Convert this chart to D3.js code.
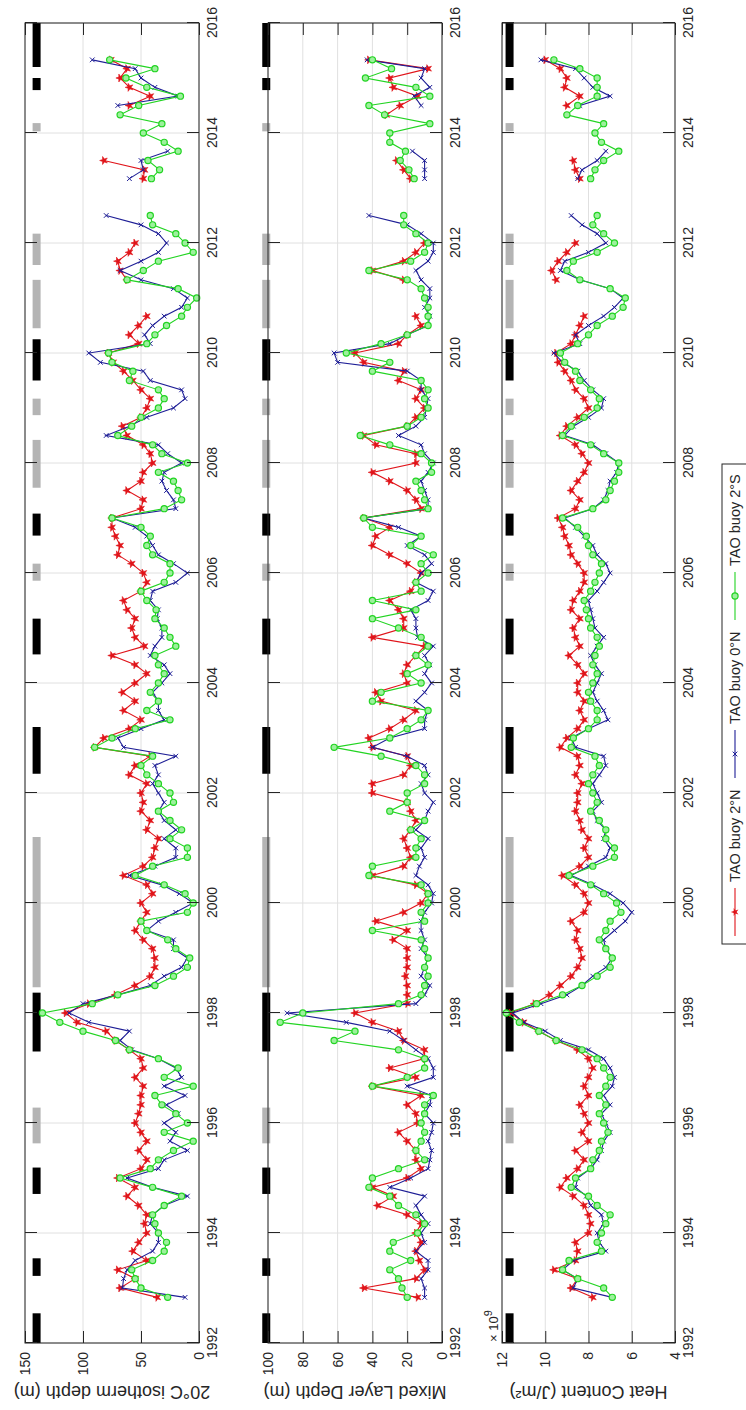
<!DOCTYPE html>
<html><head><meta charset="utf-8">
<script src="https://cdn.jsdelivr.net/npm/d3@7"></script>
<style>
body{margin:0;background:#fff}
svg{display:block}
text{font-family:"Liberation Sans",Arial,Helvetica,sans-serif}
</style>
</head><body>
<svg id="c" width="746" height="1410"></svg>
<script>
// ---------- DATA ----------
const dates = [1992.83,
1993,1993.17,1993.33,1993.5,1993.67,1993.83,
1994,1994.17,1994.33,1994.5,1994.67,1994.83,
1995,1995.17,1995.33,1995.5,1995.67,1995.83,
1996,1996.17,1996.33,1996.5,1996.67,1996.83,
1997,1997.17,1997.33,1997.5,1997.67,1997.83,
1998,1998.17,1998.33,1998.5,1998.67,1998.83,
1999,1999.17,1999.33,1999.5,1999.67,1999.83,
2000,2000.17,2000.33,2000.5,2000.67,2000.83,
2001,2001.17,2001.33,2001.5,2001.67,2001.83,
2002,2002.17,2002.33,2002.5,2002.67,2002.83,
2003,2003.17,2003.33,2003.5,2003.67,2003.83,
2004,2004.17,2004.33,2004.5,2004.67,2004.83,
2005,2005.17,2005.33,2005.5,2005.67,2005.83,
2006,2006.17,2006.33,2006.5,2006.67,2006.83,
2007,2007.17,2007.33,2007.5,2007.67,2007.83,
2008,2008.17,2008.33,2008.5,2008.67,2008.83,
2009,2009.17,2009.33,2009.5,2009.67,2009.83,
2010,2010.17,2010.33,2010.5,2010.67,2010.83,
2011,2011.17,2011.33,2011.5,2011.67,2011.83,
2012,2012.17,2012.33,2012.5,2012.67,2012.83,
2013,2013.17,2013.33,2013.5,2013.67,2013.83,
2014,2014.17,2014.33,2014.5,2014.67,2014.83,
2015,2015.17,2015.33];

const seriesNames = ["TAO buoy 2°N","TAO buoy 0°N","TAO buoy 2°S"];

// 20°C isotherm depth (m)
const d20_2N = [36,
68,55,70,45,57,52, 45,47,45,52,62,55, 70,50,45,52,45,50, 55,52,50,50,48,55,
48,50,60,72,80,105, 115,95,72,55,42,38, 38,40,48,55,50,45, 50,40,45,65,48,40,
38,35,45,42,50,48, 50,45,60,55,42,90, 82,60,50,65,55,66, 55,45,55,75,47,55,
58,55,62,65,50,45, 48,58,70,68,72,75, 75,50,48,62,50,48, 40,42,48,62,66,50,
45,42,50,57,65,74, 78,52,60,52,45,null, null,null,62,68,70,60, 55,null,null,null,null,null,
null,48,47,82,null,null, null,null,null,60,42,60, 68,62,76];
const d20_0N = [12,
66,65,62,55,40,35, 35,42,40,30,10,40, 62,35,30,10,25,20, 30,18,28,12,30,15,
20,35,58,68,60,95, 112,100,70,42,30,15, 10,22,22,45,35,20, 5,17,32,60,38,20,
20,30,20,30,35,30, 35,40,35,38,20,65, 70,50,30,35,35,40, 32,25,30,42,38,32,
32,36,35,42,40,20, 10,22,35,40,45,55, 75,20,22,28,32,30, 15,27,35,80,60,45,
22,12,15,42,48,85, 95,42,47,40,30,15, 10,22,50,68,50,35, 28,35,50,80,null,null,
null,60,48,50,27,null, null,null,null,70,18,38, 50,55,92];
const d20_2S = [27,
50,55,58,40,30,28, 35,38,40,30,15,40, 68,42,35,22,5,30, 10,20,32,38,5,30,
18,35,60,72,100,120, 135,92,70,38,22,10, 8,20,27,45,50,10, 5,12,30,55,40,10,
10,25,15,25,35,22, 25,35,45,50,40,90, 75,55,25,45,35,42, 35,30,35,38,20,25,
30,38,37,45,50,30, 25,25,40,45,42,50, 75,30,15,18,22,35, 10,32,40,70,58,50,
35,30,35,60,57,75, 78,45,38,28,15,10, 2,18,62,48,35,5, 12,20,40,42,null,null,
null,41,34,44,18,30, 48,32,68,52,16,45, 63,38,77];

// Mixed layer depth (m)
const mld_2N = [14,
45,15,10,13,15,12, 15,12,20,37,28,40, 20,12,15,15,20,25, 14,15,20,12,40,15,
30,10,10,22,25,40, 50,20,20,20,21,20, 20,20,28,20,38,22, 12,8,15,40,22,18,
20,22,18,15,18,20, 40,40,22,18,20,40, 42,30,22,15,35,38, 20,22,20,15,10,40,
22,22,25,30,18,15, 12,20,30,40,38,30, 45,12,15,20,30,40, 15,15,38,45,20,15,
10,15,12,25,22,45, 50,25,20,12,15,null, null,null,22,40,22,15, 10,null,null,null,null,null,
null,18,22,26,null,null, null,null,32,24,14,28, 30,8,42];
const mld_0N = [10,
10,12,8,8,15,10, 12,8,12,15,10,30, 18,8,7,6,8,6, 5,10,7,6,20,5,
5,8,15,22,30,55, 89,15,10,7,12,10, 8,12,10,12,12,10, 6,5,8,15,13,10,
12,8,15,10,8,5, 10,12,8,10,20,40, 30,10,10,8,15,10, 6,10,7,10,5,14,
15,15,18,8,5,15, 12,6,10,20,12,25, 45,8,8,10,12,8, 5,10,12,25,15,10,
9,8,12,12,20,60, 62,30,20,8,7,10, 7,7,12,15,8,5, 5,12,20,42,null,null,
null,10,10,10,17,null, null,null,null,12,16,7, 12,10,43];
const mld_2S = [20,
23,25,30,18,30,28, 14,10,15,25,30,42, 40,25,10,15,12,10, 12,10,10,5,40,20,
10,10,25,62,50,93, 80,25,12,10,8,10, 8,10,12,40,10,12, 8,8,12,42,40,15,
15,12,18,10,30,20, 20,10,10,15,35,62, 30,20,12,8,40,35, 12,20,8,15,8,12,
25,40,15,40,12,15, 8,12,5,18,12,40, 45,8,10,12,15,6, 6,12,30,47,20,12,
8,10,8,12,40,30, 55,35,20,8,8,8, 10,12,20,42,18,10, 8,15,22,22,null,null,
null,16,19,24,21,30, 30,7,33,42,7,15, 44,29,40];

// Heat content (x 10^9 J/m^2)
const hc_2N = [7.8,
8.8,8.5,9.6,8.6,8.5,8.6, 8.0,7.9,8.0,8.2,8.7,9.3, 9.0,8.5,8.2,8.6,8.0,8.3, 8.0,8.2,8.4,8.0,8.2,8.0,
7.8,8.0,8.5,9.5,10.3,11.0, 11.6,10.5,9.8,9.3,8.8,8.5, 8.3,8.4,8.6,8.5,8.8,8.2, 8.0,8.2,8.6,9.2,8.4,8.0,
8.2,8.0,8.3,8.4,8.6,8.5, 8.5,8.3,8.6,8.4,8.5,9.3, 9.0,8.5,8.2,8.4,8.2,8.5, 8.5,8.2,8.5,8.9,8.4,8.6,
8.7,8.4,8.8,8.7,8.4,8.2, 8.2,8.5,8.8,8.9,9.1,9.2, 9.4,8.6,8.4,8.8,8.5,8.2, 8.0,8.3,8.6,9.3,9.0,8.5,
8.0,8.2,8.6,8.8,9.1,9.4, 9.5,8.8,8.6,8.4,8.2,null, null,null,9.5,9.7,9.4,9.0, 8.6,null,null,null,null,null,
null,8.4,8.6,8.7,null,null, null,null,null,9.0,8.4,9.1, 9.0,9.3,10.0];
const hc_0N = [6.9,
8.7,8.5,9.2,8.7,7.2,7.5, 7.6,7.3,7.4,7.9,8.1,8.6, 8.5,7.9,7.6,7.4,7.3,7.0, 7.2,7.4,7.0,7.3,6.9,6.8,
7.0,7.3,8.0,9.3,10.0,11.0, 11.5,10.2,9.0,8.3,7.8,7.2, 6.9,7.2,7.3,6.8,6.3,6.0, 6.4,7.0,7.8,8.8,8.0,7.2,
7.0,7.3,7.2,7.6,7.8,7.4, 7.6,7.8,7.5,7.2,7.3,8.6, 8.8,8.0,7.1,7.3,7.6,7.8, 7.6,7.4,7.7,7.9,7.6,7.3,
7.7,7.8,7.9,8.0,7.6,7.3, 7.0,7.2,7.6,7.8,8.2,8.6, 9.1,7.8,7.3,7.1,7.0,6.7, 6.6,7.2,7.8,9.1,8.7,8.0,
7.4,7.3,7.8,8.2,8.5,9.2, 9.6,8.4,8.6,8.0,7.3,6.8, 6.4,7.0,8.4,9.3,9.1,8.0, 7.2,7.6,8.3,8.8,null,null,
null,8.5,8.3,7.6,7.2,null, null,null,null,8.4,7.0,7.8, 8.2,8.6,10.2];
const hc_2S = [6.9,
7.3,8.5,9.2,8.9,7.4,7.6, 7.4,7.2,7.0,7.6,8.0,8.8, 8.6,7.9,7.8,7.5,7.4,7.1, 7.3,7.5,7.2,7.5,7.2,7.0,
7.3,7.6,8.3,9.5,10.3,11.2, 11.8,10.4,9.2,8.3,7.6,7.0, 6.9,7.2,7.5,7.2,7.0,6.5, 6.7,7.3,7.9,8.9,7.8,6.8,
6.8,7.2,7.2,7.5,7.9,7.6, 7.8,8.0,7.8,7.5,7.7,8.8, 8.7,8.0,7.6,7.6,7.9,8.0, 7.8,7.6,7.8,7.7,7.5,7.6,
7.9,8.0,8.1,8.2,7.9,7.7, 7.5,7.4,7.8,8.0,8.1,8.5, 9.2,7.8,7.2,7.0,6.8,6.6, 6.6,7.3,7.9,9.2,8.8,8.2,
7.6,7.5,7.9,8.4,8.6,9.1, 9.3,8.5,8.0,7.6,6.9,6.4, 6.3,7.0,8.4,9.0,8.7,7.6, 6.8,7.3,7.8,7.6,null,null,
null,7.9,7.7,7.3,6.6,7.4, 7.7,7.3,9.0,8.5,7.6,7.6, 7.6,8.4,9.6];

// ENSO event bars (E = El Niño, black; L = La Niña, grey)
const ensoStart = [1992.0,1993.22,1994.71,1995.63,1997.3,1998.47,2002.35,2004.52,2005.86,2006.68,2007.55,2008.87,2009.5,2010.45,2011.6,2014.03,2014.78,2015.2];
const ensoEnd   = [1992.54,1993.54,1995.19,1996.28,1998.37,2001.2,2003.2,2005.17,2006.17,2007.08,2008.42,2009.17,2010.25,2011.33,2012.17,2014.18,2015.0,2016.0];
const ensoType  = ["E","E","E","L","E","L","E","E","L","E","L","L","E","L","L","L","E","E"];

const yearTicks = [1992,1994,1996,1998,2000,2002,2004,2006,2008,2010,2012,2014,2016];
const ticks1 = [0,50,100,150];
const ticks2 = [0,20,40,60,80,100];
const ticks3 = [4,6,8,10,12];
const ensoLevel = [140, 101, 11.65];

// ---------- DRAW ----------
const svg = d3.select("#c");
svg.append("rect").attr("width",746).attr("height",1410).attr("fill","#fff");
// whole figure is rotated 90° counter-clockwise
const g = svg.append("g").attr("transform","translate(0,1410) rotate(-90)");

const x = d3.scaleLinear().domain([1992,2016]).range([67,1387]);
const colors = ["#e0141a","#1e1e96","#22d422"];
const axisColor = "#262626";

const panels = [
  {top:25,bottom:199,domain:[0,150],ticks:ticks1,label:"20°C isotherm depth (m)",series:[d20_2N,d20_0N,d20_2S]},
  {top:268,bottom:442,domain:[0,100],ticks:ticks2,label:"Mixed Layer Depth (m)",series:[mld_2N,mld_0N,mld_2S]},
  {top:502,bottom:675,domain:[4,12],ticks:ticks3,label:"Heat Content (J/m²)",series:[hc_2N,hc_0N,hc_2S]}
];

const starSym = d3.symbol().type(d3.symbolStar).size(20);
const timesSym = d3.symbol().type(d3.symbolTimes).size(16);

panels.forEach((p,pi)=>{
  const y = d3.scaleLinear().domain(p.domain).range([p.bottom,p.top]);
  const pg = g.append("g");

  // grid
  pg.append("g").selectAll("line").data(yearTicks).join("line")
    .attr("x1",d=>x(d)).attr("x2",d=>x(d)).attr("y1",p.top).attr("y2",p.bottom)
    .attr("stroke","#e0e0e0").attr("stroke-width",1);
  pg.append("g").selectAll("line").data(p.ticks).join("line")
    .attr("x1",x(1992)).attr("x2",x(2016)).attr("y1",d=>y(d)).attr("y2",d=>y(d))
    .attr("stroke","#e0e0e0").attr("stroke-width",1);

  // ENSO bars
  pg.append("g").selectAll("line").data(ensoStart.map((s,i)=>({s,e:ensoEnd[i],t:ensoType[i]}))).join("line")
    .attr("x1",d=>x(d.s)).attr("x2",d=>x(d.e))
    .attr("y1",y(ensoLevel[pi])).attr("y2",y(ensoLevel[pi]))
    .attr("stroke",d=>d.t==="E"?"#000":"#b4b4b4").attr("stroke-width",8);

  // series
  p.series.forEach((arr,si)=>{
    const pts = dates.map((t,i)=>({t,v:arr[i]}));
    const line = d3.line().defined(d=>d.v!=null).x(d=>x(d.t)).y(d=>y(d.v));
    pg.append("path").attr("d",line(pts)).attr("fill","none")
      .attr("stroke",colors[si]).attr("stroke-width",1.1);
    const valid = pts.filter(d=>d.v!=null);
    const mg = pg.append("g");
    if(si===0){
      mg.selectAll("path").data(valid).join("path")
        .attr("transform",d=>`translate(${x(d.t)},${y(d.v)})`).attr("d",starSym)
        .attr("fill",colors[0]).attr("stroke",colors[0]).attr("stroke-width",0.6);
    } else if(si===1){
      mg.selectAll("path").data(valid).join("path")
        .attr("transform",d=>`translate(${x(d.t)},${y(d.v)})`).attr("d",timesSym)
        .attr("fill","none").attr("stroke",colors[1]).attr("stroke-width",1);
    } else {
      mg.selectAll("circle").data(valid).join("circle")
        .attr("cx",d=>x(d.t)).attr("cy",d=>y(d.v)).attr("r",3.1)
        .attr("fill","#9df09d").attr("stroke",colors[2]).attr("stroke-width",1.2);
    }
  });

  // axes (ticks inward on all four sides)
  const style = sel=>{
    sel.select(".domain").remove();
    sel.attr("color",axisColor).attr("font-family","'Liberation Sans',Arial,sans-serif").attr("font-size",14);
    sel.selectAll(".tick line").attr("stroke",axisColor).attr("stroke-width",1);
  };
  pg.append("g").attr("transform",`translate(0,${p.bottom})`)
    .call(d3.axisBottom(x).tickValues(yearTicks).tickFormat(d3.format("d")).tickSize(-12).tickPadding(8)).call(style);
  pg.append("g").attr("transform",`translate(0,${p.top})`)
    .call(d3.axisTop(x).tickValues(yearTicks).tickFormat("").tickSize(-12)).call(style);
  pg.append("g").attr("transform",`translate(${x(1992)},0)`)
    .call(d3.axisLeft(y).tickValues(p.ticks).tickFormat(d3.format("d")).tickSize(-12).tickPadding(9)).call(style);
  pg.append("g").attr("transform",`translate(${x(2016)},0)`)
    .call(d3.axisRight(y).tickValues(p.ticks).tickFormat("").tickSize(-12)).call(style);

  // box
  pg.append("rect").attr("x",x(1992)).attr("y",p.top).attr("width",x(2016)-x(1992)).attr("height",p.bottom-p.top)
    .attr("fill","none").attr("stroke",axisColor).attr("stroke-width",1);

  // y label
  pg.append("text").attr("transform",`translate(24,${(p.top+p.bottom)/2}) rotate(-90)`)
    .attr("text-anchor","middle").attr("font-size",18).attr("fill",axisColor).text(p.label);
});

// exponent label for heat content
const ex = g.append("text").attr("x",68).attr("y",498).attr("font-size",13).attr("fill",axisColor);
ex.append("tspan").text("× 10");
ex.append("tspan").attr("dy",-6).attr("font-size",11).text("9");

// legend
const lg = g.append("g");
lg.append("rect").attr("x",466).attr("y",722).attr("width",480).attr("height",40)
  .attr("fill","#fff").attr("stroke",axisColor).attr("stroke-width",1);
const legX = [474,632,790];
seriesNames.forEach((name,i)=>{
  const x0 = legX[i], ly = 735;
  lg.append("line").attr("x1",x0).attr("x2",x0+48).attr("y1",ly).attr("y2",ly).attr("stroke",colors[i]).attr("stroke-width",1.1);
  if(i===0) lg.append("path").attr("transform",`translate(${x0+24},${ly})`).attr("d",starSym).attr("fill",colors[0]);
  else if(i===1) lg.append("path").attr("transform",`translate(${x0+24},${ly})`).attr("d",timesSym).attr("fill","none").attr("stroke",colors[1]);
  else lg.append("circle").attr("cx",x0+24).attr("cy",ly).attr("r",3.1).attr("fill","#9df09d").attr("stroke",colors[2]).attr("stroke-width",1.2);
  lg.append("text").attr("x",x0+54).attr("y",ly+5).attr("font-size",14.5).attr("fill",axisColor).text(name);
});
</script>
</body></html>
